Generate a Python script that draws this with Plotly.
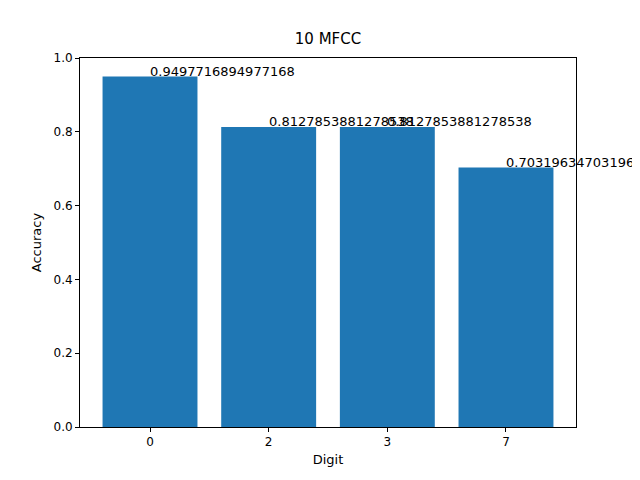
import plotly.graph_objects as go

digits = ["0", "2", "3", "7"]
accuracy = [0.9497716894977168, 0.8127853881278538, 0.8127853881278538, 0.7031963470319635]
positions = [0, 1, 2, 3]

fig = go.Figure()
fig.add_trace(go.Bar(x=positions, y=accuracy, width=0.8, marker=dict(color="#1f77b4", line=dict(width=0))))

for xp, v in zip(positions, accuracy):
    fig.add_annotation(x=xp, y=v, text=str(v), showarrow=False, xanchor="left", yanchor="bottom",
                       yshift=-4, xshift=-2, font=dict(size=13, color="black"))

axis_style = dict(showline=True, linecolor="black", mirror=True, ticks="outside", ticklen=4,
                  tickcolor="black", showgrid=False, zeroline=False,
                  tickfont=dict(size=12, color="black"))

# page body adds ~8px offset, so margins are shifted to compensate
fig.update_layout(
    width=640, height=480,
    margin=dict(l=72, r=72, t=50, b=61),
    paper_bgcolor="white", plot_bgcolor="white",
    font=dict(family="DejaVu Sans", color="black"),
    title=dict(text="10 MFCC", x=0.5, xanchor="center", y=0.925, yanchor="bottom", font=dict(size=15)),
    showlegend=False,
    xaxis=dict(axis_style, range=[-0.59, 3.59], tickvals=positions, ticktext=digits,
               title=dict(text="Digit", font=dict(size=13), standoff=6)),
    yaxis=dict(axis_style, range=[0, 1], tickvals=[0, 0.2, 0.4, 0.6, 0.8, 1.0], tickformat=".1f",
               title=dict(text="Accuracy", font=dict(size=13), standoff=8)),
)

fig.write_html("out.html")
